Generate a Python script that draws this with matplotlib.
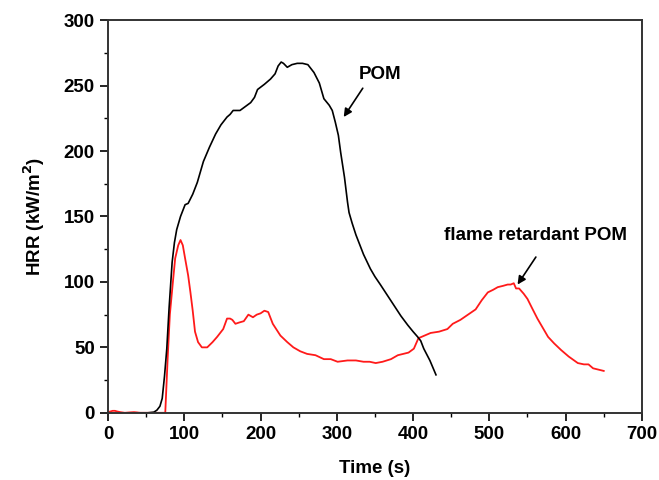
import matplotlib
matplotlib.use('Agg')
import matplotlib.pyplot as plt
from matplotlib.ticker import MultipleLocator

# heat release rate curves, time in s, HRR in kW/m2
t_pom = [42, 52, 60, 64, 68, 71, 74, 77, 80, 84, 87, 90, 95, 101, 105, 111, 117,
         125, 133, 141, 148, 156, 160, 164, 168, 173, 180, 187, 192, 196, 205,
         213, 219, 223, 227, 230, 235, 241, 248, 255, 262, 270, 277, 283, 290,
         294, 298, 302, 305, 310, 314, 316, 320, 325, 335, 344, 350, 357, 366,
         375, 384, 393, 400, 406, 410, 414, 422, 430]
hrr_pom = [0, 0, 0.5, 2, 5, 11, 28, 49, 80, 115, 130, 140, 150, 159, 160, 167, 176,
           192, 203, 213, 220, 226, 228, 231, 231, 231, 234, 237, 241, 247, 251,
           255, 259, 265, 268, 267, 264, 266, 267, 267, 266, 260, 252, 240, 235,
           231, 222, 212, 199, 180, 161, 153, 145, 136, 121, 110, 104, 98, 90,
           82, 74, 67, 62, 58, 55, 49, 40, 29]

t_fr = [0, 3, 6, 9, 12, 16, 22, 28, 34, 38, 42, 60, 75, 78, 81, 85, 88, 92, 95,
        98, 101, 105, 108, 111, 114, 118, 123, 130, 137, 143, 151, 156, 160, 163,
        167, 172, 178, 184, 187, 190, 195, 200, 205, 210, 216, 226, 235, 243,
        252, 261, 272, 283, 292, 301, 314, 325, 335, 343, 351, 360, 371, 380,
        387, 394, 401, 404, 407, 415, 423, 434, 445, 452, 462, 472, 482, 490,
        498, 505, 511, 518, 524, 528, 532, 535, 539, 545, 550, 556, 563, 570,
        577, 585, 594, 604, 616, 624, 630, 636, 643, 650]
hrr_fr = [0.5, 1, 1.5, 1.5, 1, 0.5, 0, 0.3, 0.5, 0.3, 0, 0, 0, 40, 75, 100, 118,
          128, 132, 128, 118, 105, 92, 78, 62, 54, 50, 50, 54, 58, 64, 72, 72,
          71, 68, 69, 70, 75, 74, 73, 75, 76, 78, 77, 68, 59, 54, 50, 47, 45,
          44, 41, 41, 39, 40, 40, 39, 39, 38, 39, 41, 44, 45, 46, 49, 53, 57,
          59, 61, 62, 64, 68, 71, 75, 79, 86, 92, 94, 96, 97, 98, 98, 99, 95,
          95, 91, 87, 80, 72, 65, 58, 53, 48, 43, 38, 37, 37, 34, 33, 32]

x_ticks = [0, 100, 200, 300, 400, 500, 600, 700]
y_ticks = [0, 50, 100, 150, 200, 250, 300]

plt.rcParams['font.family'] = ['Liberation Sans', 'DejaVu Sans']
plt.rcParams['font.weight'] = 'bold'

fig = plt.figure(figsize=(6.59, 4.8), dpi=100)
ax = fig.add_axes([0.164, 0.140, 0.810, 0.818])

ax.plot(t_fr, hrr_fr, color='#ff1a1a', lw=1.3)
ax.plot(t_pom, hrr_pom, color='black', lw=1.2)

ax.set_xlim(0, 700)
ax.set_ylim(0, 300)
ax.set_xticks(x_ticks)
ax.set_yticks(y_ticks)
ax.xaxis.set_minor_locator(MultipleLocator(50))
ax.yaxis.set_minor_locator(MultipleLocator(25))
ax.tick_params(which='major', direction='out', length=6, width=1.2, labelsize=13.5)
ax.tick_params(which='minor', direction='out', length=3, width=1.0)
for lbl in ax.get_xticklabels() + ax.get_yticklabels():
    lbl.set_fontweight('bold')
for s in ax.spines.values():
    s.set_linewidth(1.4)
    s.set_color('#333333')

ax.set_xlabel('Time (s)', fontsize=13.5, fontweight='bold', labelpad=12)
ax.set_ylabel('HRR (kW/m$\\mathbf{^2}$)', fontsize=13.5, fontweight='bold', labelpad=12)

# labels with arrows pointing at each curve
arrow = dict(arrowstyle='-|>', color='black', lw=1.2, mutation_scale=12,
             shrinkA=0, shrinkB=0)
ax.text(329, 252, 'POM', fontsize=13.5, fontweight='bold', ha='left', va='bottom')
ax.annotate('', xy=(309, 226), xytext=(334, 248), arrowprops=arrow)
ax.text(560, 129, 'flame retardant POM', fontsize=13.5, fontweight='bold',
        ha='center', va='bottom')
ax.annotate('', xy=(537, 98), xytext=(561, 119), arrowprops=arrow)

fig.savefig('out.png', dpi=100)
